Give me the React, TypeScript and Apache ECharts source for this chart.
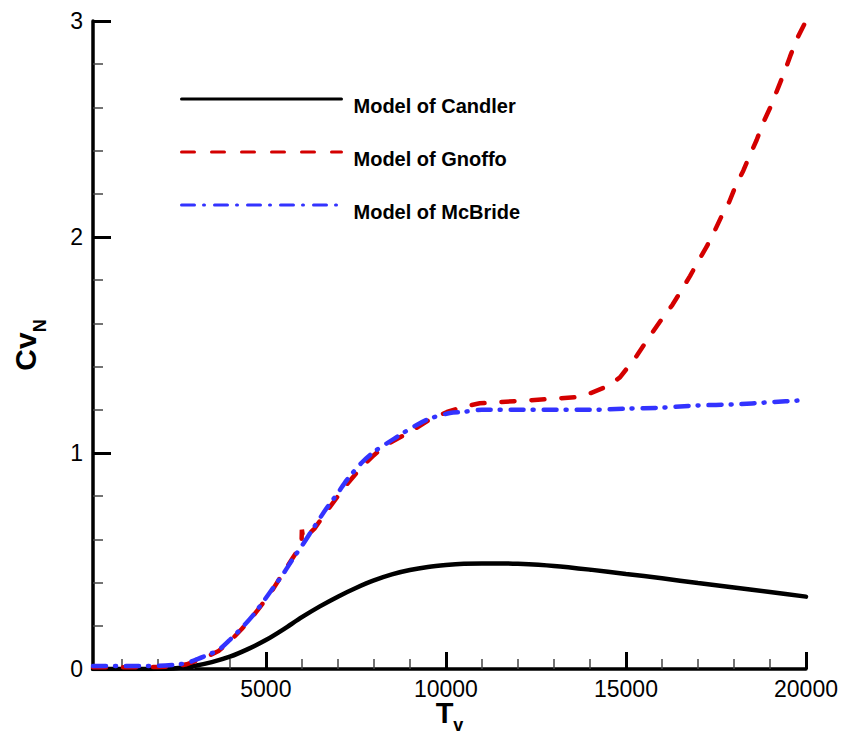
import React, { useEffect, useRef } from 'react';
import * as echarts from 'echarts';

const FONT = '"Liberation Sans", Arial, Helvetica, sans-serif';

const candlerT = [200, 1500, 2000, 2500, 3000, 3500, 4000, 4500, 5000, 5500, 6000, 6500, 7000, 7500, 8000, 8500, 9000, 9500, 10000, 10500, 11000, 11500, 12000, 13000, 14000, 15000, 16000, 17000, 18000, 19000, 20000];
const candlerV = [0, 0, 0.001, 0.004, 0.014, 0.032, 0.057, 0.092, 0.134, 0.185, 0.24, 0.29, 0.335, 0.375, 0.41, 0.438, 0.458, 0.472, 0.481, 0.487, 0.489, 0.489, 0.487, 0.477, 0.46, 0.44, 0.42, 0.398, 0.377, 0.356, 0.335];

const gnoffoT = [200, 1000, 2000, 2500, 2800, 3100, 3400, 3700, 4000, 4330, 4600, 4920, 5200, 5480, 5750, 5990, 6000, 6040, 6350, 6690, 7000, 7250, 7660, 8000, 8360, 9000, 9500, 10030, 10500, 10940, 11920, 12890, 13583, 14000, 14463, 14833, 15300, 15620, 15991, 16287, 16528, 16778, 16991, 17241, 17454, 17657, 17870, 18046, 18259, 18444, 18630, 18796, 19000, 19231, 19417, 19556, 19741, 20000];
const gnoffoV = [0.008, 0.008, 0.009, 0.013, 0.022, 0.04, 0.06, 0.085, 0.128, 0.185, 0.235, 0.305, 0.37, 0.445, 0.515, 0.575, 0.645, 0.6, 0.65, 0.73, 0.8, 0.855, 0.935, 0.99, 1.04, 1.097, 1.15, 1.19, 1.215, 1.23, 1.24, 1.25, 1.258, 1.276, 1.307, 1.35, 1.45, 1.531, 1.619, 1.685, 1.75, 1.819, 1.883, 1.955, 2.025, 2.097, 2.163, 2.237, 2.307, 2.38, 2.449, 2.523, 2.597, 2.693, 2.77, 2.835, 2.915, 3.0];

const mcbrideT = [200, 1000, 2000, 2500, 2800, 3100, 3400, 3700, 4000, 4330, 4600, 4920, 5200, 5480, 5750, 6000, 6350, 6690, 7000, 7250, 7660, 8000, 8360, 8640, 9190, 9560, 10110, 10470, 11000, 12000, 13000, 14000, 15000, 16000, 17000, 18000, 19000, 20000];
const mcbrideV = [0.014, 0.014, 0.015, 0.02, 0.028, 0.046, 0.066, 0.09, 0.135, 0.19, 0.24, 0.31, 0.375, 0.44, 0.51, 0.57, 0.66, 0.745, 0.815, 0.875, 0.955, 1.005, 1.045, 1.075, 1.13, 1.16, 1.185, 1.19, 1.2, 1.2, 1.2, 1.2, 1.205, 1.21, 1.22, 1.225, 1.235, 1.245];

const seriesNames = ['Model of Candler', 'Model of Gnoffo', 'Model of McBride'];
const xMajorTicks = [5000, 10000, 15000, 20000];
const xMinorTicks = [1000, 2000, 3000, 4000, 6000, 7000, 8000, 9000, 11000, 12000, 13000, 14000, 16000, 17000, 18000, 19000];

const pairs = (t: number[], v: number[]) => t.map((x, i) => [x, v[i]]);

export default function App() {
  const ref = useRef<HTMLDivElement>(null);
  useEffect(() => {
    const chart = echarts.init(ref.current!, null, { renderer: 'svg' });
    chart.setOption({
      animation: false,
      backgroundColor: '#ffffff',
      textStyle: { fontFamily: FONT },
      grid: { left: 93, right: 39, top: 21, bottom: 67, containLabel: false, outerBoundsMode: 'none' },
      legend: {
        data: seriesNames,
        orient: 'vertical',
        left: 180,
        top: 91,
        padding: 0,
        itemWidth: 160,
        itemHeight: 20,
        itemGap: 28,
        itemStyle: { opacity: 0 },
        lineStyle: { width: 3 },
        formatter: (name: string) => `{t|${name}}`,
        textStyle: {
          fontSize: 20,
          fontWeight: 'bold',
          color: '#000',
          fontFamily: FONT,
          rich: {
            t: { fontSize: 20, fontWeight: 'bold', color: '#000', fontFamily: FONT, padding: [14, 0, 0, 7] },
          },
        },
      },
      xAxis: [
        {
          type: 'value',
          min: 200,
          max: 20000,
          name: '{a|T}{b|v}',
          nameLocation: 'middle',
          nameGap: 33,
          nameMoveOverlap: false,
          nameTextStyle: {
            lineHeight: 22,
            rich: {
              a: { fontSize: 29, fontWeight: 'bold', color: '#000', fontFamily: FONT, lineHeight: 22 },
              b: { fontSize: 18, fontWeight: 'bold', color: '#000', fontFamily: FONT, lineHeight: 22, padding: [24, 0, 0, 0] },
            },
          },
          axisLine: { show: true, onZero: false, lineStyle: { color: '#000', width: 3.5 } },
          axisTick: { show: true, inside: true, length: 17, customValues: xMajorTicks, lineStyle: { color: '#000', width: 3 } },
          axisLabel: {
            show: true,
            customValues: xMajorTicks,
            formatter: (v: number) => String(v),
            fontSize: 23,
            color: '#000',
            margin: 8,
            fontFamily: FONT,
          },
          splitLine: { show: false },
        },
        {
          type: 'value',
          min: 200,
          max: 20000,
          position: 'bottom',
          axisLine: { show: false },
          axisTick: { show: true, inside: true, length: 10, customValues: xMinorTicks, lineStyle: { color: '#444', width: 1.5 } },
          axisLabel: { show: false },
          splitLine: { show: false },
        },
      ],
      yAxis: {
        type: 'value',
        min: 0,
        max: 3,
        interval: 1,
        name: '{a|Cv}{b|N}',
        nameLocation: 'middle',
        nameRotate: 90,
        nameGap: 44,
        nameMoveOverlap: false,
        nameTextStyle: {
          rich: {
            a: { fontSize: 30, fontWeight: 'bold', color: '#000', fontFamily: FONT },
            b: { fontSize: 18, fontWeight: 'bold', color: '#000', fontFamily: FONT, padding: [30, 0, 0, 0] },
          },
        },
        axisLine: { show: true, onZero: false, lineStyle: { color: '#000', width: 3.5 } },
        axisTick: { show: true, inside: true, length: 18, lineStyle: { color: '#000', width: 3 } },
        minorTick: { show: true, splitNumber: 5, length: 10, lineStyle: { color: '#444', width: 1.5 } },
        axisLabel: { fontSize: 23, color: '#000', margin: 10, fontFamily: FONT },
        splitLine: { show: false },
        minorSplitLine: { show: false },
      },
      series: [
        {
          name: seriesNames[0],
          type: 'line',
          data: pairs(candlerT, candlerV),
          symbol: 'none',
          smooth: 0.3,
          lineStyle: { color: '#000000', width: 4.5, cap: 'round' },
          itemStyle: { color: '#000000' },
          z: 2,
        },
        {
          name: seriesNames[1],
          type: 'line',
          data: pairs(gnoffoT, gnoffoV),
          symbol: 'none',
          smooth: false,
          lineStyle: { color: '#d40000', width: 4.5, type: [13, 17], cap: 'round' },
          itemStyle: { color: '#d40000' },
          z: 3,
        },
        {
          name: seriesNames[2],
          type: 'line',
          data: pairs(mcbrideT, mcbrideV),
          symbol: 'none',
          smooth: 0.3,
          lineStyle: { color: '#3333ff', width: 4.5, type: [13, 9, 1, 10], cap: 'round' },
          itemStyle: { color: '#3333ff' },
          z: 4,
        },
      ],
    });
    return () => chart.dispose();
  }, []);
  return (
    <div
      ref={ref}
      style={{ position: 'absolute', left: 0, top: 0, width: 845, height: 736, background: '#fff' }}
    />
  );
}
